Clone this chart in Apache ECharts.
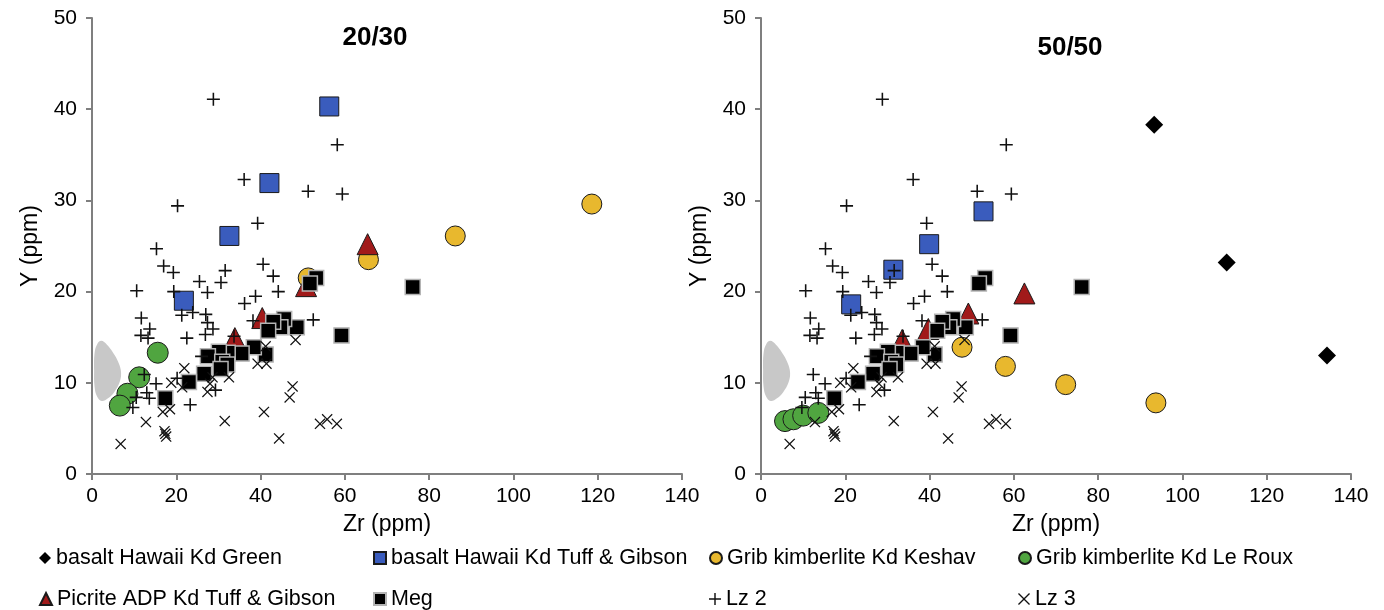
<!DOCTYPE html>
<html><head><meta charset="utf-8">
<script src="https://cdn.jsdelivr.net/npm/echarts@6/dist/echarts.min.js"></script>
<style>html,body{margin:0;padding:0;background:#fff}#c{width:1384px;height:610px}</style>
</head><body><div id="c"></div>
<script>
// ---------- data ----------
const panelTitles = ['20/30', '50/50'];
const xTicks = [0, 20, 40, 60, 80, 100, 120, 140];
const yTicks = [0, 10, 20, 30, 40, 50];

// shared data (same in both panels)
const lz2 = [[28.8,41.1],[58.2,36.1],[36.1,32.3],[51.3,31.0],[59.4,30.7],[20.3,29.4],[39.3,27.5],[15.3,24.7],[17.0,22.8],[19.3,22.1],[31.6,22.3],[40.6,23.0],[43.0,21.7],[25.5,21.1],[30.6,21.0],[10.6,20.1],[19.4,20.0],[27.4,19.9],[44.2,20.0],[38.8,19.5],[36.2,18.7],[21.3,17.4],[23.9,17.7],[11.7,17.1],[27.0,17.5],[27.4,16.6],[28.7,15.9],[26.9,15.3],[13.7,15.9],[11.6,15.2],[13.3,14.9],[22.5,14.9],[38.2,16.8],[52.5,16.9],[33.7,15.1],[26.0,12.9],[12.4,10.9],[15.2,9.9],[13.0,8.9],[13.6,8.3],[10.5,8.4],[9.7,7.3],[23.3,7.6],[20.2,10.5],[29.3,9.2]];
const lz3 = [[6.8,3.3],[12.8,5.7],[16.8,6.8],[18.5,7.1],[17.2,4.7],[17.6,4.1],[17.4,4.4],[31.5,5.8],[40.8,6.8],[44.4,3.9],[54.1,5.5],[55.8,6.0],[58.1,5.5],[46.9,8.4],[47.6,9.6],[48.3,14.7],[41.2,14.0],[39.3,12.1],[41.4,12.1],[32.5,10.6],[21.9,11.6],[18.8,10.0],[21.4,9.5],[28.0,9.9],[27.4,9.0],[28.6,10.6]];
const meg = [[76.1,20.5],[59.2,15.2],[53.2,21.5],[51.7,20.9],[48.6,16.1],[45.6,17.0],[44.7,16.1],[43.0,16.7],[41.8,15.7],[41.2,13.1],[38.4,13.9],[35.5,13.2],[32.2,13.3],[30.1,13.4],[27.5,12.9],[30.9,12.3],[32.1,12.0],[30.5,11.5],[26.6,11.0],[23.0,10.1],[17.4,8.3]];
const grayField = [[0.6,13.2],[1.2,14.2],[2.2,14.6],[3.5,14.2],[5.0,13.3],[6.3,12.2],[6.9,11.1],[6.5,10.0],[5.3,9.0],[3.8,8.3],[2.3,8.0],[1.2,8.5],[0.6,9.6],[0.5,11.3]];

// panel 20/30
const tuffBasalt2030 = [[56.3,40.3],[42.1,31.9],[32.6,26.1],[21.8,19.0]];
const keshav2030 = [[65.6,23.5],[51.3,21.5],[86.2,26.1],[118.6,29.6]];
const leRoux2030 = [[15.6,13.3],[11.2,10.6],[8.4,8.8],[6.6,7.5]];
const picrite2030 = [[33.9,14.9],[40.4,17.1],[50.8,20.6],[65.4,25.2]];

// panel 50/50
const green5050 = [[93.3,38.3],[110.5,23.2],[134.3,13.0]];
const tuffBasalt5050 = [[52.8,28.8],[39.9,25.2],[31.4,22.4],[21.4,18.6]];
const keshav5050 = [[47.7,13.9],[58.0,11.8],[72.3,9.8],[93.7,7.8]];
const leRoux5050 = [[5.7,5.8],[7.7,6.0],[10.0,6.4],[13.6,6.7]];
const picrite5050 = [[33.5,14.7],[39.7,15.9],[49.2,17.6],[62.5,19.8]];

const seriesNames = ['basalt Hawaii Kd Green','basalt Hawaii Kd Tuff & Gibson','Grib kimberlite Kd Keshav','Grib kimberlite Kd Le Roux','Picrite ADP Kd Tuff & Gibson','Meg','Lz 2','Lz 3'];

// ---------- styling ----------
const FONT = '"Liberation Sans", Arial, sans-serif';
const PLUS = 'path://M4.4,0 H5.6 V4.4 H10 V5.6 H5.6 V10 H4.4 V5.6 H0 V4.4 H4.4 Z';
const CROSS = 'path://M0.8,0 L5,4.2 L9.2,0 L10,0.8 L5.8,5 L10,9.2 L9.2,10 L5,5.8 L0.8,10 L0,9.2 L4.2,5 L0,0.8 Z';
const styles = {
  'basalt Hawaii Kd Green': {symbol:'diamond', symbolSize:18, itemStyle:{color:'#000', opacity:1}},
  'basalt Hawaii Kd Tuff & Gibson': {symbol:'rect', symbolSize:19, itemStyle:{color:'#3a5cbd', borderColor:'#1a1a1a', borderWidth:1, opacity:1}},
  'Grib kimberlite Kd Keshav': {symbol:'circle', symbolSize:20, itemStyle:{color:'#e8b82e', borderColor:'#1a1a1a', borderWidth:1, opacity:1}},
  'Grib kimberlite Kd Le Roux': {symbol:'circle', symbolSize:21, itemStyle:{color:'#50a540', borderColor:'#1a1a1a', borderWidth:1, opacity:1}},
  'Picrite ADP Kd Tuff & Gibson': {symbol:'triangle', symbolSize:[21,21], itemStyle:{color:'#a11a1a', borderColor:'#1a1a1a', borderWidth:1, opacity:1}},
  'Meg': {symbol:'rect', symbolSize:15, itemStyle:{color:'#000', borderColor:'#b4b4b4', borderWidth:1.5, opacity:1}},
  'Lz 2': {symbol:PLUS, symbolSize:13, itemStyle:{color:'#111', opacity:1}},
  'Lz 3': {symbol:CROSS, symbolSize:11, itemStyle:{color:'#111', opacity:1}}
};

function scatter(name, grid, data) {
  return Object.assign({type:'scatter', name:name, xAxisIndex:grid, yAxisIndex:grid, data:data, z:2+seriesNames.indexOf(name)}, JSON.parse(JSON.stringify(styles[name])));
}
function field(grid) {
  return {
    type:'custom', xAxisIndex:grid, yAxisIndex:grid, data:[0], z:1, silent:true, clip:true,
    renderItem: function(params, api) {
      const pts = grayField.map(p => api.coord(p));
      return {type:'polygon', shape:{points:pts, smooth:0.4}, style:{fill:'#c8c8c8', stroke:null}};
    }
  };
}

const series = [
  field(0),
  scatter('basalt Hawaii Kd Tuff & Gibson', 0, tuffBasalt2030),
  scatter('Grib kimberlite Kd Keshav', 0, keshav2030),
  scatter('Grib kimberlite Kd Le Roux', 0, leRoux2030),
  scatter('Picrite ADP Kd Tuff & Gibson', 0, picrite2030),
  scatter('Meg', 0, meg),
  scatter('Lz 2', 0, lz2),
  scatter('Lz 3', 0, lz3),
  field(1),
  scatter('basalt Hawaii Kd Green', 1, green5050),
  scatter('basalt Hawaii Kd Tuff & Gibson', 1, tuffBasalt5050),
  scatter('Grib kimberlite Kd Keshav', 1, keshav5050),
  scatter('Grib kimberlite Kd Le Roux', 1, leRoux5050),
  scatter('Picrite ADP Kd Tuff & Gibson', 1, picrite5050),
  scatter('Meg', 1, meg),
  scatter('Lz 2', 1, lz2),
  scatter('Lz 3', 1, lz3)
];

const axisLine = {show:true, lineStyle:{color:'#7f7f7f', width:2}};
function xAxis(grid) {
  return {type:'value', gridIndex:grid, min:xTicks[0], max:xTicks[xTicks.length-1], interval:xTicks[1]-xTicks[0],
    name:'Zr (ppm)', nameLocation:'middle', nameGap:39, nameTextStyle:{fontFamily:FONT, fontSize:23, color:'#000'},
    axisLine:axisLine, axisTick:{show:true, length:6, lineStyle:{color:'#7f7f7f', width:2}},
    axisLabel:{fontFamily:FONT, fontSize:21, color:'#000', margin:12}, splitLine:{show:false}};
}
function yAxis(grid) {
  return {type:'value', gridIndex:grid, min:yTicks[0], max:yTicks[yTicks.length-1], interval:yTicks[1]-yTicks[0],
    name:'Y (ppm)', nameLocation:'middle', nameGap:50, nameTextStyle:{fontFamily:FONT, fontSize:23, color:'#000'},
    axisLine:axisLine, axisTick:{show:true, length:6, lineStyle:{color:'#7f7f7f', width:2}},
    axisLabel:{fontFamily:FONT, fontSize:21, color:'#000', margin:15}, splitLine:{show:false}};
}

// legend: one component per entry, laid out as 2 rows x 4 columns
const legendBase = {orient:'horizontal', padding:0, itemWidth:12, itemHeight:12,
  textStyle:{fontFamily:FONT, fontSize:21.5, color:'#000', lineHeight:20}};
const legendRowsTop = [547, 588];
const legendColsLeft = [39, 373, 709, 1018];
const legendLayout = [
  ['basalt Hawaii Kd Green', 0, 0], ['basalt Hawaii Kd Tuff & Gibson', 0, 1],
  ['Grib kimberlite Kd Keshav', 0, 2], ['Grib kimberlite Kd Le Roux', 0, 3],
  ['Picrite ADP Kd Tuff & Gibson', 1, 0], ['Meg', 1, 1], ['Lz 2', 1, 2], ['Lz 3', 1, 3]
];

const option = {
  animation:false,
  backgroundColor:'#fff',
  title:[
    {text:panelTitles[0], left:370, top:33, textAlign:'center', textVerticalAlign:'middle', textStyle:{fontFamily:FONT, fontSize:26, fontWeight:'bold', color:'#000'}},
    {text:panelTitles[1], left:1065, top:43, textAlign:'center', textVerticalAlign:'middle', textStyle:{fontFamily:FONT, fontSize:26, fontWeight:'bold', color:'#000'}}
  ],
  grid:[
    {left:92, right:702, top:18, bottom:136},
    {left:761, right:33, top:18, bottom:136}
  ],
  xAxis:[xAxis(0), xAxis(1)],
  yAxis:[yAxis(0), yAxis(1)],
  legend: legendLayout.map(([n, r, c]) => Object.assign({}, legendBase, {left:legendColsLeft[c], top:legendRowsTop[r], data:[n]})),
  series: series
};

const chart = echarts.init(document.getElementById('c'), null, {renderer:'canvas'});
chart.setOption(option);
</script>
</body></html>
